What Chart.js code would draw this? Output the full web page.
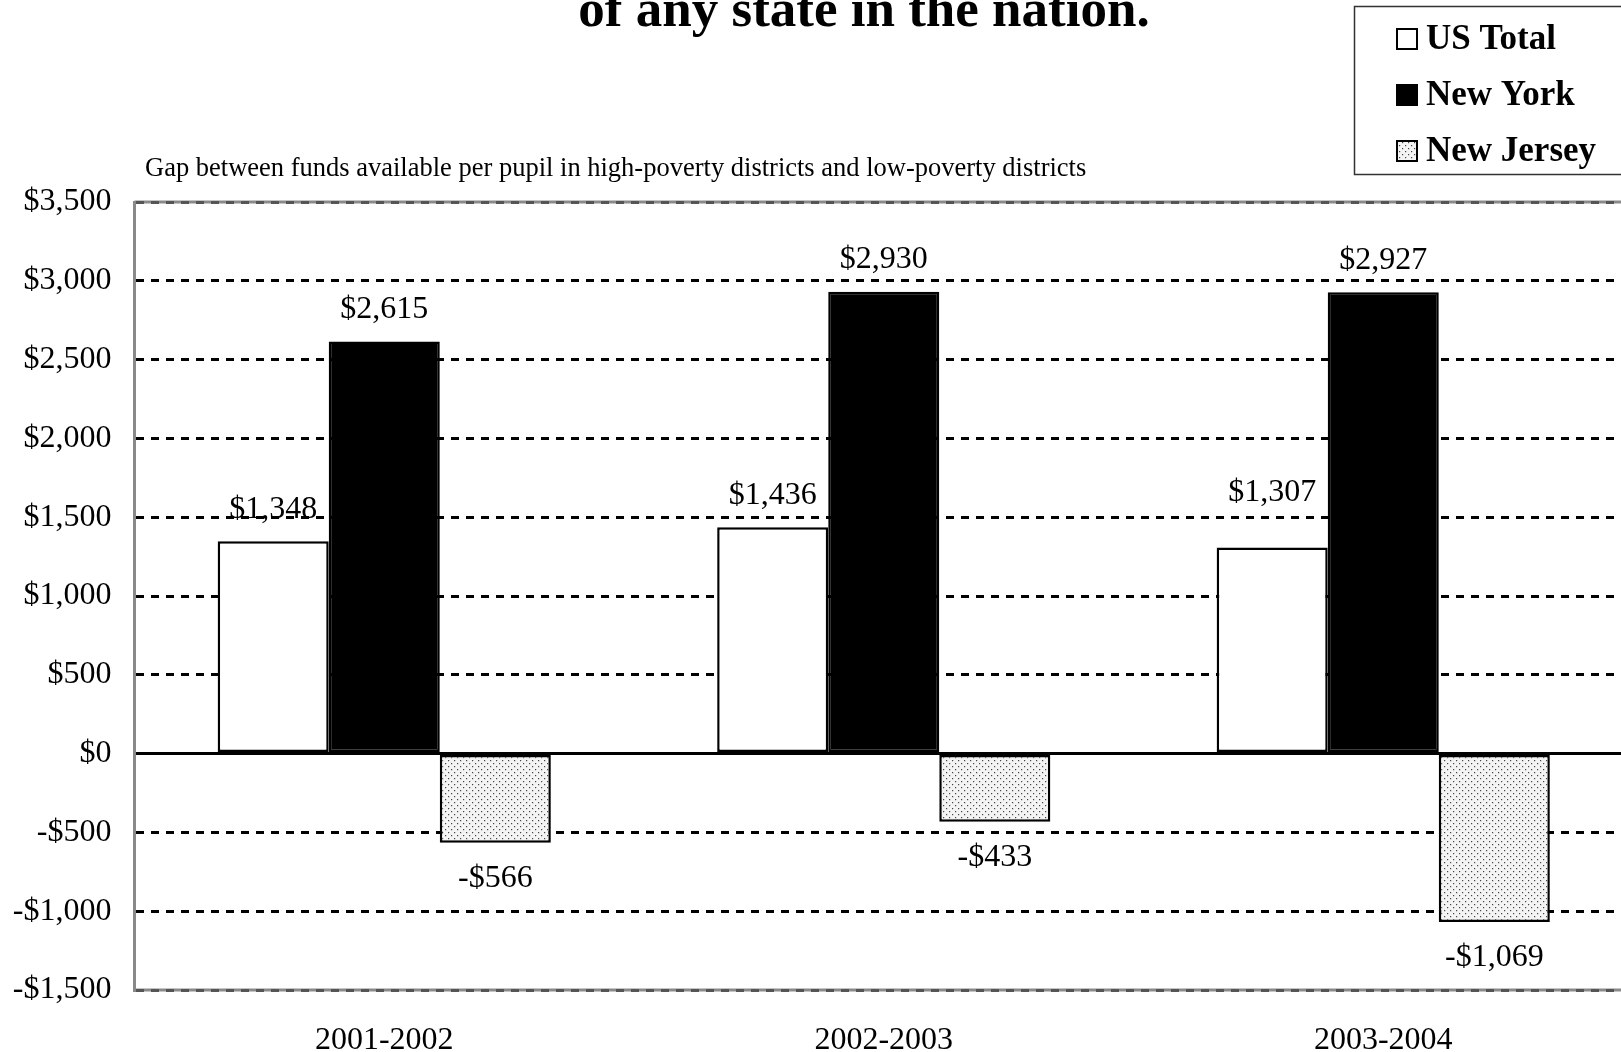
<!DOCTYPE html>
<html>
<head>
<meta charset="utf-8">
<script src="https://cdn.jsdelivr.net/npm/chart.js@4.4.1/dist/chart.umd.min.js"></script>
<style>
    html, body { margin: 0; padding: 0; background: #fff; overflow: hidden; }
    #wrap { width: 1640px; height: 1052px; }
</style>
</head>
<body>
<div id="wrap"><canvas id="gapChart" width="1640" height="1052"></canvas></div>
<script>
// School years and per-pupil funding gap (dollars)
const years = ['2001-2002', '2002-2003', '2003-2004'];
const usTotal = [1348, 1436, 1307];
const newYork = [2615, 2930, 2927];
const newJersey = [-566, -433, -1069];
const seriesNames = ['US Total', 'New York', 'New Jersey'];

const titleText = 'of any state in the nation.';
const subtitleText = 'Gap between funds available per pupil in high-poverty districts and low-poverty districts';

const SERIF = '"Liberation Serif", "Times New Roman", serif';

// extra lift for the last US Total label so it clears the gridline
const labelLift = [[0, 0, 23], [0, 0, 0], [0, 0, 0]];

// small dotted fill used for New Jersey bars
function dotPattern() {
    const c = document.createElement('canvas');
    c.width = 6;
    c.height = 6;
    const g = c.getContext('2d');
    g.fillStyle = '#f4f4f4';
    g.fillRect(0, 0, 6, 6);
    g.fillStyle = '#444';
    g.fillRect(1, 1, 1.2, 1.2);
    g.fillRect(4, 4, 1.2, 1.2);
    return g.createPattern(c, 'repeat');
}
const njFill = dotPattern();

function money(v) {
    const s = '$' + Math.abs(v).toLocaleString('en-US');
    return v < 0 ? '-' + s : s;
}

// title, subtitle, legend box and value labels
const decorations = {
    id: 'decorations',
    beforeDraw(chart) {
        const ctx = chart.ctx;
        ctx.save();
        ctx.fillStyle = '#000';
        ctx.font = 'bold 53px ' + SERIF;
        ctx.textAlign = 'center';
        ctx.textBaseline = 'alphabetic';
        ctx.fillText(titleText, 864, 26);

        ctx.font = '26.5px ' + SERIF;
        ctx.textAlign = 'left';
        ctx.textBaseline = 'middle';
        ctx.fillText(subtitleText, 145, 169);

        // legend
        ctx.strokeStyle = '#333';
        ctx.lineWidth = 1.5;
        ctx.strokeRect(1354.5, 6.5, 400, 168);
        const rows = [39, 95, 151];
        const fills = ['#fff', '#000', njFill];
        ctx.font = 'bold 35px ' + SERIF;
        rows.forEach((y, i) => {
            ctx.fillStyle = fills[i];
            ctx.fillRect(1397, y - 10, 20, 20);
            ctx.strokeStyle = '#000';
            ctx.lineWidth = 2;
            ctx.strokeRect(1397, y - 10, 20, 20);
            ctx.fillStyle = '#000';
            ctx.fillText(seriesNames[i], 1426, y + 1);
        });

        // plot frame top and bottom in grey
        const a = chart.chartArea;
        ctx.strokeStyle = '#8a8a8a';
        ctx.lineWidth = 3;
        ctx.beginPath();
        ctx.moveTo(a.left, a.top);
        ctx.lineTo(a.right, a.top);
        ctx.moveTo(a.left, a.bottom);
        ctx.lineTo(a.right, a.bottom);
        ctx.stroke();
        ctx.restore();
    },
    afterDatasetsDraw(chart) {
        const ctx = chart.ctx;
        ctx.save();
        ctx.fillStyle = '#000';
        ctx.font = '32px ' + SERIF;
        ctx.textAlign = 'center';
        ctx.textBaseline = 'middle';
        chart.data.datasets.forEach((ds, di) => {
            chart.getDatasetMeta(di).data.forEach((bar, i) => {
                const v = ds.data[i];
                const y = v >= 0 ? bar.y - 32 - labelLift[di][i] : bar.y + 36;
                ctx.fillText(money(v), bar.x, y);
            });
        });
        ctx.restore();
    }
};

new Chart(document.getElementById('gapChart'), {
    type: 'bar',
    data: {
        labels: years,
        datasets: [
            {
                label: seriesNames[0],
                data: usTotal,
                backgroundColor: '#fff',
                borderColor: '#000',
                borderWidth: 2.5,
                borderSkipped: false,
            },
            {
                label: seriesNames[1],
                data: newYork,
                backgroundColor: '#000',
                borderColor: '#000',
                borderWidth: 2.5,
                borderSkipped: false,
            },
            {
                label: seriesNames[2],
                data: newJersey,
                backgroundColor: njFill,
                borderColor: '#000',
                borderWidth: 2.5,
                borderSkipped: false,
            },
        ],
    },
    options: {
        responsive: false,
        animation: false,
        devicePixelRatio: 1,
        layout: { padding: { top: 202, right: 7, left: 0, bottom: 0 } },
        datasets: { bar: { categoryPercentage: 0.667, barPercentage: 1 } },
        plugins: {
            legend: { display: false },
            tooltip: { enabled: false },
        },
        scales: {
            x: {
                grid: { display: false },
                border: { display: false },
                ticks: {
                    color: '#000',
                    font: { family: SERIF, size: 32 },
                    padding: 23,
                    maxRotation: 0,
                },
                afterFit(scale) { scale.height = 62; },
            },
            y: {
                min: -1500,
                max: 3500,
                grid: {
                    drawTicks: false,
                    color: (c) => (c.tick && (c.tick.value === 3500 || c.tick.value === -1500)) ? '#555' : '#000',
                    lineWidth: 3,
                },
                border: {
                    display: true,
                    color: '#8a8a8a',
                    width: 3,
                    dash: (c) => (c.tick && c.tick.value === 0) ? [] : [8, 7],
                },
                ticks: {
                    stepSize: 500,
                    color: '#000',
                    font: { family: SERIF, size: 32 },
                    padding: 23,
                    callback: (v) => money(v),
                },
                afterFit(scale) { scale.width = 134.5; },
            },
        },
    },
    plugins: [decorations],
});
</script>
</body>
</html>
